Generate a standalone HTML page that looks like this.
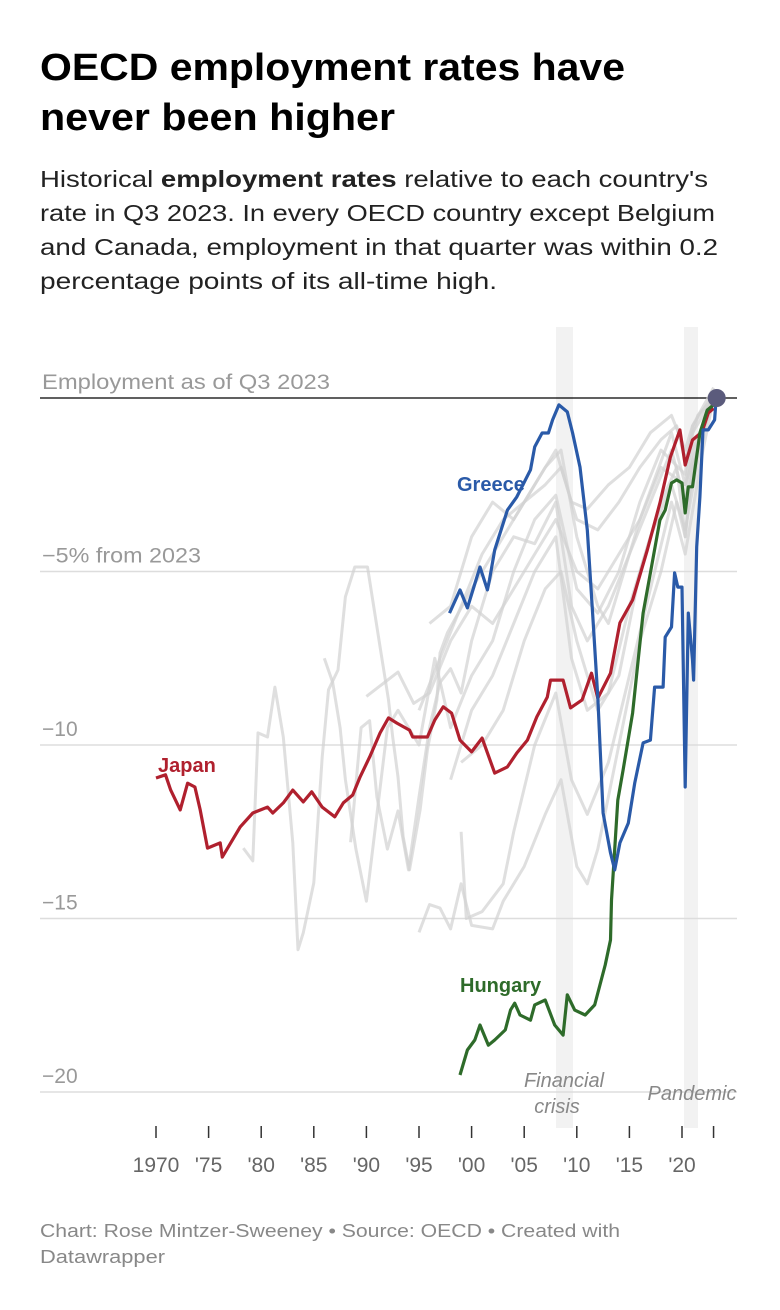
<!DOCTYPE html>
<html><head><meta charset="utf-8"><style>
html,body{margin:0;padding:0;background:#fff;}
svg{display:block;font-family:"Liberation Sans",sans-serif;}
</style></head><body>
<svg id="c" width="780" height="1310" viewBox="0 0 780 1310">
<g font-weight="bold" font-size="38" fill="#000">
<text x="40" y="80" textLength="585" lengthAdjust="spacingAndGlyphs">OECD employment rates have</text>
<text x="40" y="130" textLength="355" lengthAdjust="spacingAndGlyphs">never been higher</text>
</g>
<g font-size="23" fill="#222">
<text x="40" y="187" textLength="668" lengthAdjust="spacingAndGlyphs">Historical <tspan font-weight="bold">employment rates</tspan> relative to each country's</text>
<text x="40" y="221" textLength="675" lengthAdjust="spacingAndGlyphs">rate in Q3 2023. In every OECD country except Belgium</text>
<text x="40" y="255" textLength="678" lengthAdjust="spacingAndGlyphs">and Canada, employment in that quarter was within 0.2</text>
<text x="40" y="289" textLength="457" lengthAdjust="spacingAndGlyphs">percentage points of its all-time high.</text>
</g>
<rect x="556" y="327" width="17" height="801" fill="#f2f2f2"/>
<rect x="684" y="327" width="14" height="801" fill="#f2f2f2"/>
<g id="grid"></g>
<g id="grey"></g>
<g id="main"></g>
<g id="xaxis"></g>
<text x="564" y="1087" font-size="20" font-style="italic" fill="#888" text-anchor="middle">Financial</text>
<text x="557" y="1113" font-size="20" font-style="italic" fill="#888" text-anchor="middle">crisis</text>
<text x="692" y="1100" font-size="20" font-style="italic" fill="#888" text-anchor="middle">Pandemic</text>
<text x="457" y="491" font-size="20" font-weight="bold" fill="#2a5aa8">Greece</text>
<text x="158" y="772" font-size="20" font-weight="bold" fill="#b0202e">Japan</text>
<text x="460" y="992" font-size="20" font-weight="bold" fill="#2e6b2a">Hungary</text>
<g font-size="18" fill="#888">
<text x="40" y="1237" textLength="580" lengthAdjust="spacingAndGlyphs">Chart: Rose Mintzer-Sweeney • Source: OECD • Created with</text>
<text x="40" y="1263" textLength="125" lengthAdjust="spacingAndGlyphs">Datawrapper</text>
</g>
</svg>
<script>
const yTicks=[0,-5,-10,-15,-20];
const yTickLabels=["Employment as of Q3 2023","\u22125% from 2023","\u221210","\u221215","\u221220"];
const xTicks=[1970,1975,1980,1985,1990,1995,2000,2005,2010,2015,2020,2023];
const xTickLabels=["1970","'75","'80","'85","'90","'95","'00","'05","'10","'15","'20",""];
const japanYears=[1970.0,1970.9,1971.4,1972.3,1973.0,1973.7,1974.2,1974.9,1976.1,1976.3,1978.0,1979.2,1980.6,1981.1,1982.1,1983.0,1984.0,1984.8,1985.8,1987.0,1987.8,1988.7,1989.4,1990.3,1991.3,1992.1,1992.9,1994.1,1994.4,1995.8,1996.5,1997.3,1998.1,1998.9,2000.0,2001.0,2002.2,2003.4,2004.3,2005.3,2006.2,2007.2,2007.5,2008.7,2009.4,2010.5,2011.4,2012.0,2013.2,2014.1,2015.3,2016.7,2017.9,2018.9,2019.8,2020.3,2021.0,2021.9,2022.5,2023.0];
const japanValues=[-10.95,-10.86,-11.30,-11.87,-11.10,-11.21,-11.87,-12.97,-12.82,-13.23,-12.36,-11.96,-11.79,-11.96,-11.67,-11.30,-11.64,-11.35,-11.79,-12.07,-11.67,-11.44,-10.92,-10.35,-9.65,-9.22,-9.37,-9.57,-9.77,-9.77,-9.28,-8.90,-9.08,-9.86,-10.20,-9.80,-10.81,-10.63,-10.23,-9.86,-9.19,-8.62,-8.13,-8.13,-8.93,-8.70,-7.93,-8.65,-7.93,-6.48,-5.82,-4.38,-3.03,-1.70,-0.92,-1.93,-1.21,-0.98,-0.43,-0.30];
const greeceYears=[1997.9,1998.9,1999.6,2000.8,2001.5,2001.7,2002.2,2003.4,2004.3,2005.6,2006.0,2006.7,2007.3,2007.7,2008.3,2009.1,2009.6,2010.3,2011.0,2011.5,2012.0,2012.5,2013.2,2013.6,2014.1,2014.9,2015.5,2016.3,2017.0,2017.4,2018.2,2018.4,2019.0,2019.3,2019.6,2020.0,2020.3,2020.6,2021.0,2021.1,2021.4,2021.7,2022.0,2022.5,2023.1,2023.3];
const greeceValues=[-6.20,-5.53,-6.05,-4.87,-5.53,-5.24,-4.38,-3.23,-2.85,-2.07,-1.41,-1.01,-1.01,-0.63,-0.20,-0.40,-1.01,-1.99,-3.80,-6.20,-8.62,-11.96,-13.11,-13.60,-12.82,-12.25,-11.10,-9.94,-9.86,-8.33,-8.33,-6.89,-6.60,-5.04,-5.45,-5.45,-11.21,-6.20,-7.55,-8.13,-4.29,-2.85,-0.92,-0.92,-0.63,0.2];
const hungaryYears=[1998.9,1999.6,2000.3,2000.8,2001.6,2002.2,2003.2,2003.7,2004.1,2004.6,2005.6,2006.0,2007.0,2007.9,2008.7,2009.1,2009.8,2010.8,2011.7,2012.2,2012.7,2013.2,2013.3,2013.9,2014.4,2015.3,2016.3,2017.0,2017.9,2018.4,2019.0,2019.5,2020.0,2020.3,2020.6,2021.0,2021.7,2022.4,2023.0];
const hungaryValues=[-19.51,-18.79,-18.50,-18.07,-18.65,-18.50,-18.21,-17.64,-17.44,-17.78,-17.93,-17.49,-17.35,-18.07,-18.36,-17.20,-17.64,-17.78,-17.49,-16.92,-16.34,-15.62,-14.47,-11.59,-10.72,-9.08,-6.20,-5.04,-3.52,-3.23,-2.45,-2.36,-2.45,-3.31,-2.56,-2.56,-1.01,-0.35,-0.20];
const grey1Years=[1978.3,1979.2,1979.7,1980.6,1981.3,1982.1,1983.0,1983.5,1984.0,1985.0,1985.8,1986.4,1987.3,1988.0,1988.9,1990.1,1990.6,1991.3,1992.1,1992.5,1993.0,1993.5,1994.1,1995.1,1995.8,1996.7,1997.0,1997.7,2000,2003,2007,2008.5,2010,2012,2013,2016,2019,2020.3,2021,2023];
const grey1Values=[-12.97,-13.34,-9.65,-9.77,-8.33,-9.77,-12.82,-15.90,-15.41,-13.97,-10.35,-8.41,-7.84,-5.73,-4.87,-4.87,-5.82,-7.18,-8.70,-9.77,-10.92,-12.65,-13.60,-11.87,-10.14,-8.70,-7.35,-6.77,-5.5,-4.0,-2.0,-1.5,-4,-6,-6.5,-3.5,-1.0,-2.5,-1.0,0];
const grey2Years=[1986,1986.8,1987.5,1988,1989,1990,1991,1992,1993,1995,1996.5,1998,2000,2002,2004,2006,2008,2010,2012,2014,2016,2018,2020.3,2021,2023];
const grey2Values=[-7.5,-8.2,-9.5,-11,-13,-14.5,-12,-9.5,-9,-10,-7.5,-9.5,-8,-7,-5,-3.5,-2.8,-5.5,-6.2,-5,-3,-1.5,-2.2,-0.8,0.1];
const grey3Years=[1988.5,1989.5,1990.3,1991,1992,1993,1994,1995,1996,1997,1998,1999,2000,2002,2004,2006,2008,2009.5,2011,2013,2015,2017,2019,2020.3,2021,2023];
const grey3Values=[-12.8,-9.5,-9.3,-11.5,-13,-11.9,-13.6,-11.5,-9.5,-8.2,-7.8,-8.5,-7,-5,-4,-4.2,-3,-6,-7,-6,-4.5,-3,-1.5,-3,-1.5,0];
const grey4Years=[1995,1996,1997,1998,1999,2000,2002,2003,2005,2007,2008.5,2010,2011,2012,2014,2016,2018,2019.5,2020.3,2021,2023];
const grey4Values=[-15.4,-14.6,-14.7,-15.3,-14.0,-15.2,-15.3,-14.5,-13.5,-12,-11,-13.5,-14,-13,-10,-7,-5,-3,-4,-2,0];
const grey5Years=[1999,1999.5,2001,2003,2004,2006,2008,2009.5,2011,2013,2015,2017,2019,2020.3,2022,2023];
const grey5Values=[-12.5,-15,-14.8,-14,-12.5,-10,-8.5,-11,-12,-10.5,-8,-5.5,-3,-4.5,-1.5,0];
const grey6Years=[1995,1997,1999,2001,2003,2005,2007,2008.5,2010,2012,2014,2016,2018,2019.5,2020.3,2021.5,2023];
const grey6Values=[-9,-7.5,-6,-4.5,-3.5,-3,-2.5,-2,-3.5,-3.8,-3,-2,-1.2,-0.8,-1.8,-0.5,0];
const grey7Years=[1998,2000,2002,2004,2006,2008,2009.5,2011,2013,2015,2017,2019,2020.3,2022,2023];
const grey7Values=[-11,-9,-8,-6.5,-5,-4,-7.5,-9,-8.5,-6,-4,-2.5,-3.8,-1,0];
const grey8Years=[1996,1998,2000,2002,2004,2006,2008,2009.5,2011,2013,2015,2017,2019,2020.3,2021,2023];
const grey8Values=[-6.5,-6,-4,-3,-3.5,-2.5,-1.5,-3,-3.2,-2.5,-2,-1,-0.5,-1.5,-0.8,0.3];
const grey9Years=[1999,2001,2003,2005,2007,2008.5,2010,2012,2014,2016,2018,2019.5,2020.3,2021,2023];
const grey9Values=[-10.5,-10,-9,-7,-5.5,-5,-7,-9,-8,-5,-3,-2,-4,-2,0];
const grey10Years=[1990,1993,1994.5,1996,1998,2000,2002,2004,2006,2008,2010,2012,2014,2016,2018,2020.3,2023];
const grey10Values=[-8.6,-7.9,-8.8,-8.5,-7,-6,-6.5,-5.5,-4.5,-3.5,-5,-5.5,-4.5,-3.5,-2,-2.5,0.2];

const NS="http://www.w3.org/2000/svg";
function xs(yr){return 156+(yr-1970)*10.52;}
function ys(v){return 398-v*34.7;}
function path(yrs,vals){return yrs.map((y,i)=>(i?'L':'M')+xs(y).toFixed(1)+','+ys(vals[i]).toFixed(1)).join('');}

const grid=document.getElementById('grid');
yTicks.forEach((t,i)=>{
  const l=document.createElementNS(NS,'line');
  l.setAttribute('x1',40);l.setAttribute('x2',737);
  l.setAttribute('y1',ys(t));l.setAttribute('y2',ys(t));
  l.setAttribute('stroke',t===0?'#000':'#ddd');l.setAttribute('stroke-width',t===0?1.2:1.5);
  
  
  grid.appendChild(l);
  const tx=document.createElementNS(NS,'text');
  tx.setAttribute('x',42);tx.setAttribute('y',ys(t)-9);
  tx.setAttribute('font-size','21');tx.setAttribute('fill','#999');
  if(i===0){tx.setAttribute('textLength','288');tx.setAttribute('lengthAdjust','spacingAndGlyphs');}
  if(i===1){tx.setAttribute('textLength','159');tx.setAttribute('lengthAdjust','spacingAndGlyphs');}
  tx.textContent=yTickLabels[i];
  
  
  grid.appendChild(tx);
});

const grey=document.getElementById('grey');
[[grey1Years,grey1Values],[grey2Years,grey2Values],[grey3Years,grey3Values],[grey4Years,grey4Values],[grey5Years,grey5Values],[grey6Years,grey6Values],[grey7Years,grey7Values],[grey8Years,grey8Values],[grey9Years,grey9Values],[grey10Years,grey10Values]].forEach(s=>{
  const p=document.createElementNS(NS,'path');
  p.setAttribute('d',path(s[0],s[1]));
  p.setAttribute('fill','none');p.setAttribute('stroke','#d2d2d2');p.setAttribute('stroke-width','3');p.setAttribute('stroke-opacity','0.7');p.setAttribute('stroke-linejoin','round');
  
  
  grey.appendChild(p);
});

const main=document.getElementById('main');
[[japanYears,japanValues,'#b0202e','japan-line'],[hungaryYears,hungaryValues,'#2e6b2a','hungary-line'],[greeceYears,greeceValues,'#2a5aa8','greece-line']].forEach(s=>{
  const p=document.createElementNS(NS,'path');
  p.setAttribute('d',path(s[0],s[1]));
  p.setAttribute('fill','none');p.setAttribute('stroke',s[2]);p.setAttribute('stroke-width','3.2');p.setAttribute('stroke-linejoin','round');
  
  
  main.appendChild(p);
});
const dot=document.createElementNS(NS,'circle');
dot.setAttribute('cx',xs(2023.3));dot.setAttribute('cy',ys(0));dot.setAttribute('r','9');dot.setAttribute('fill','#5b5b7c');


main.appendChild(dot);

const xa=document.getElementById('xaxis');
xTicks.forEach((t,i)=>{
  const l=document.createElementNS(NS,'line');
  l.setAttribute('x1',xs(t));l.setAttribute('x2',xs(t));l.setAttribute('y1',1126);l.setAttribute('y2',1138);
  l.setAttribute('stroke','#333');l.setAttribute('stroke-width','1.5');
  
  
  xa.appendChild(l);
  if(xTickLabels[i]){
    const tx=document.createElementNS(NS,'text');
    tx.setAttribute('x',xs(t));tx.setAttribute('y',1172);tx.setAttribute('text-anchor','middle');
    tx.setAttribute('font-size','21');tx.setAttribute('fill','#666');
    tx.textContent=xTickLabels[i];
    
    
    xa.appendChild(tx);
  }
});
</script>
</body></html>
